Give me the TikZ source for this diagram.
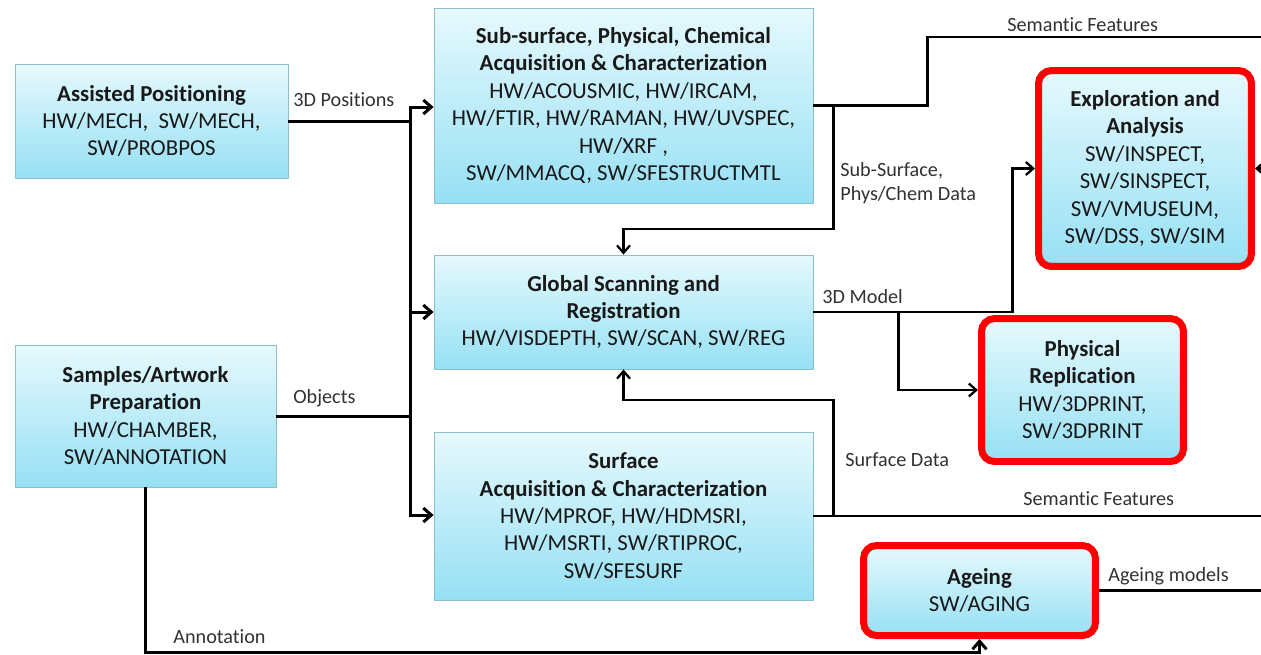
\documentclass[tikz,border=0pt]{standalone}
\usepackage{fontspec}
\setmainfont{Carlito}[Ligatures=CommonOff, Contextuals=AlternateOff]
\usepackage{tikz}
\usetikzlibrary{arrows.meta,positioning,calc}
\usepackage{xcolor}
\definecolor{boxtop}{RGB}{230,249,253}
\definecolor{boxbot}{RGB}{150,224,244}
\definecolor{boxline}{RGB}{140,190,204}
\definecolor{hilite}{RGB}{255,0,0}
\definecolor{lbltext}{RGB}{50,50,50}
\tikzset{
  box/.style={draw=boxline, line width=0.5pt, top color=boxtop, bottom color=boxbot, align=center, inner sep=3pt, text=black!90, font=\fontsize{13}{15.6}\selectfont},
  redbox/.style={box, draw=hilite, line width=1.4mm, rounded corners=2.6mm},
  wire/.style={line width=0.6mm},
  arrow/.style={-{Straight Barb[length=1.6mm,width=2.8mm]}, line width=0.6mm},
  thinwire/.style={line width=0.45mm},
  thinarrow/.style={-{Straight Barb[length=1.5mm,width=2.6mm]}, line width=0.45mm},
  lbl/.style={anchor=west, inner sep=0pt, align=left, text=lbltext, font=\fontsize{11.5}{14}\selectfont}
}

\begin{document}
\begin{tikzpicture}[x=0.02cm, y=-0.02cm]
\useasboundingbox (0,0) rectangle (1261,654);
\fill[white] (0,0) rectangle (1261,654);
\node[box, minimum width=54.6mm, minimum height=22.8mm] (assist) at (151.5,121) {\textbf{Assisted Positioning}\\HW/MECH,\ \ SW/MECH,\\SW/PROBPOS};
\node[box, minimum width=52.2mm, minimum height=28.4mm] (samples) at (145.5,416) {\textbf{Samples/Artwork}\\\textbf{Preparation}\\HW/CHAMBER,\\SW/ANNOTATION};
\node[box, minimum width=75.8mm, minimum height=39mm] (subsurf) at (623.5,105.5) {\textbf{Sub-surface, Physical, Chemical}\\\textbf{Acquisition \& Characterization}\\HW/ACOUSMIC, HW/IRCAM,\\HW/FTIR, HW/RAMAN, HW/UVSPEC,\\HW/XRF ,\\SW/MMACQ, SW/SFESTRUCTMTL};
\node[box, minimum width=75.8mm, minimum height=22.8mm] (global) at (623.5,312) {\textbf{Global Scanning and}\\\textbf{Registration}\\HW/VISDEPTH, SW/SCAN, SW/REG};
\node[box, minimum width=75.8mm, minimum height=33.6mm] (surface) at (623.5,516) {\textbf{Surface}\\\textbf{Acquisition \& Characterization}\\HW/MPROF, HW/HDMSRI,\\HW/MSRTI, SW/RTIPROC,\\SW/SFESURF};
\node[redbox, minimum width=42.6mm, minimum height=39.2mm] (explore) at (1145,168.5) {\textbf{Exploration and}\\\textbf{Analysis}\\SW/INSPECT,\\SW/SINSPECT,\\SW/VMUSEUM,\\SW/DSS, SW/SIM};
\node[redbox, minimum width=40.4mm, minimum height=28.6mm] (physrep) at (1082.5,390) {\textbf{Physical}\\\textbf{Replication}\\HW/3DPRINT,\\SW/3DPRINT};
\node[redbox, minimum width=46.4mm, minimum height=18mm] (ageing) at (979.5,590.5) {\textbf{Ageing}\\SW/AGING};

\coordinate (bus1) at (410,107);
\coordinate (bus2) at (410,515);
\coordinate (semout) at (1261,37);
\coordinate (semout2) at (1261,516);
\coordinate (ageout) at (1261,590.5);
\coordinate (explin) at (1261,168.5);

\draw[arrow] (assist.east) -| (bus1) -- (bus1 -| subsurf.west);
\draw[arrow] (bus1) -- (bus2) -- (bus2 -| surface.west);
\draw[wire] (samples.east) -- (samples.east -| bus1);
\draw[arrow] (global.west -| bus1) -- (global.west);
\draw[arrow] (samples.south) -- ++(0,165) -| (ageing.south);

\draw[thinwire] (subsurf.east) -- ++(114,0) |- (semout);
\draw[thinarrow] ($(subsurf.east)+(20,0)$) -- ++(0,123.5) -| (global.north);
\draw[thinarrow] (global.east) -- ++(199,0) |- (explore.west);
\draw[thinarrow] ($(global.east)+(85,0)$) |- (physrep.west);
\draw[thinwire] (surface.east) -- (semout2);
\draw[thinarrow] ($(surface.east)+(20,0)$) -- ++(0,-116) -| (global.south);
\draw[thinwire] (ageing.east) -- (ageout);
\draw[thinarrow] (explin) -- (explore.east);

\node[lbl] (lpos) at (293,100) {3D Positions};
\node[lbl] (lobj) at (293,398) {Objects};
\node[lbl] (lann) at (173,637) {Annotation};
\node[lbl] (lsem1) at (1007,25) {Semantic Features};
\node[lbl] (lsub) at (840,183) {Sub-Surface,\\Phys/Chem Data};
\node[lbl] (lmod) at (822,297) {3D Model};
\node[lbl] (lsurf) at (845,460) {Surface Data};
\node[lbl] (lsem2) at (1023,499) {Semantic Features};
\node[lbl] (lage) at (1108,576) {Ageing models};
\end{tikzpicture}
\end{document}
